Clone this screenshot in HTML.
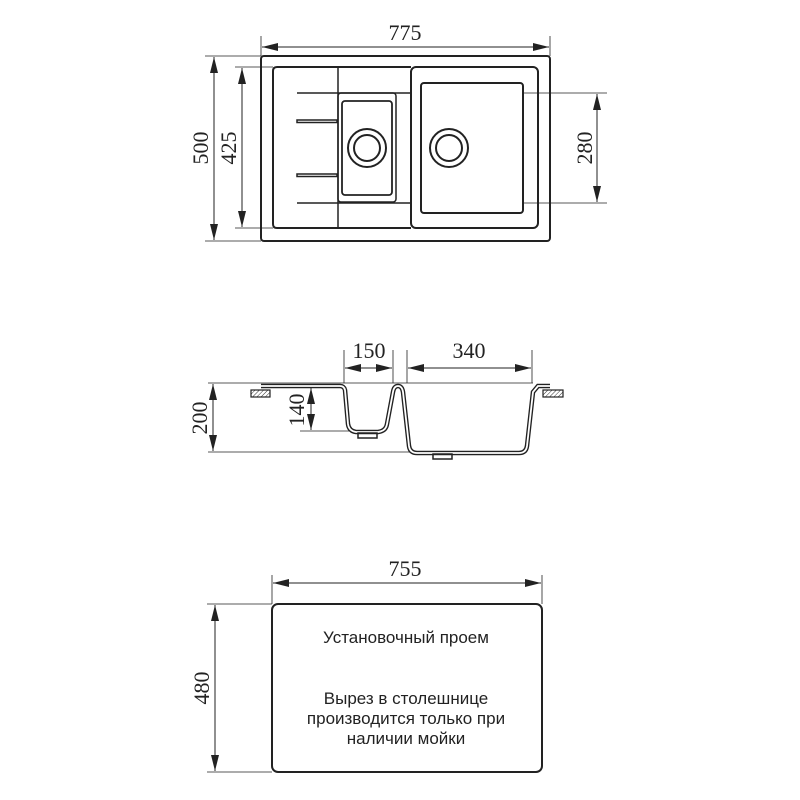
<!DOCTYPE html>
<html><head><meta charset="utf-8"><style>
html,body{margin:0;padding:0;background:#fff}
svg{display:block}
.d{font-family:"Liberation Serif",serif;font-size:22px;fill:#222}
.t{font-family:"Liberation Sans","DejaVu Sans",sans-serif;font-size:17px;fill:#222}
</style></head><body>
<svg width="800" height="800" viewBox="0 0 800 800" xmlns="http://www.w3.org/2000/svg">
<defs>
<marker id="a" viewBox="0 0 16 8" refX="16" refY="4" markerWidth="16" markerHeight="8" markerUnits="userSpaceOnUse" orient="auto-start-reverse"><path d="M0,0 L16,4 L0,8 Z" fill="#222"/></marker>
<pattern id="h" width="3" height="3" patternUnits="userSpaceOnUse" patternTransform="rotate(45)"><line x1="0" y1="0" x2="0" y2="3" stroke="#333" stroke-width="1"/></pattern>
</defs>
<g stroke="#222" fill="none">
<rect x="261" y="56" width="289" height="185" rx="3" stroke-width="2"/>
<path d="M411,67 L277,67 Q273,67 273,71 L273,224 Q273,228 277,228 L411,228" stroke-width="2"/>
<rect x="411" y="67" width="127" height="161" rx="5" stroke-width="2"/>
<rect x="421" y="83" width="102" height="130" rx="3" stroke-width="2"/>
<line x1="338" y1="67" x2="338" y2="228" stroke-width="1.5"/>
<rect x="338" y="93" width="58" height="109" rx="3" stroke-width="1.5"/>
<rect x="342" y="101" width="50" height="94" rx="3" stroke-width="1.8"/>
<circle cx="367" cy="148" r="19" stroke-width="2"/><circle cx="367" cy="148" r="13" stroke-width="2"/>
<circle cx="449" cy="148" r="19" stroke-width="2"/><circle cx="449" cy="148" r="13" stroke-width="2"/>
<line x1="297" y1="93" x2="411" y2="93" stroke-width="1.5"/>
<line x1="297" y1="203" x2="411" y2="203" stroke-width="1.5"/>
<rect x="297" y="120" width="40" height="2.5" stroke-width="1.5"/>
<rect x="297" y="174" width="40" height="2.5" stroke-width="1.5"/>
<g stroke-width="0.8">
<line x1="261" y1="36" x2="261" y2="56"/><line x1="550" y1="36" x2="550" y2="56"/>
<line x1="205" y1="56" x2="261" y2="56"/><line x1="205" y1="241" x2="261" y2="241"/>
<line x1="235" y1="67" x2="273" y2="67"/><line x1="235" y1="228" x2="273" y2="228"/>
<line x1="523" y1="93" x2="607" y2="93"/><line x1="523" y1="203" x2="607" y2="203"/>
</g>
<g stroke-width="1">
<line x1="262" y1="47" x2="549" y2="47" marker-start="url(#a)" marker-end="url(#a)"/>
<line x1="214" y1="57" x2="214" y2="240" marker-start="url(#a)" marker-end="url(#a)"/>
<line x1="242" y1="68" x2="242" y2="227" marker-start="url(#a)" marker-end="url(#a)"/>
<line x1="597" y1="94" x2="597" y2="202" marker-start="url(#a)" marker-end="url(#a)"/>
</g>
<g stroke-width="0.8">
<line x1="208" y1="383" x2="533" y2="383"/>
<line x1="208" y1="452" x2="420" y2="452"/>
<line x1="300" y1="431" x2="350" y2="431"/>
<line x1="344" y1="350" x2="344" y2="383"/><line x1="393" y1="350" x2="393" y2="383"/>
<line x1="407" y1="350" x2="407" y2="383"/><line x1="532" y1="350" x2="532" y2="383"/>
</g>
<g stroke-width="1">
<line x1="345" y1="368" x2="392" y2="368" marker-start="url(#a)" marker-end="url(#a)"/>
<line x1="408" y1="368" x2="531" y2="368" marker-start="url(#a)" marker-end="url(#a)"/>
<line x1="213" y1="384" x2="213" y2="451" marker-start="url(#a)" marker-end="url(#a)"/>
<line x1="311" y1="388" x2="311" y2="430" marker-start="url(#a)" marker-end="url(#a)"/>
</g>
<path d="M261,386 L340,386 Q344,386 345,390 L348,424 Q349,431 356,432 L378,432 Q386,431 387,424 L393,392 Q394,386 398,386 Q402,386 403,392 L409,446 Q410,453 417,453 L519,453 Q526,453 527,446 L533,392 L538,386 L550,386" stroke-width="4.5"/>
<path d="M261,386 L340,386 Q344,386 345,390 L348,424 Q349,431 356,432 L378,432 Q386,431 387,424 L393,392 Q394,386 398,386 Q402,386 403,392 L409,446 Q410,453 417,453 L519,453 Q526,453 527,446 L533,392 L538,386 L550,386" stroke="#fff" stroke-width="1.8"/>
<rect x="358" y="433" width="19" height="5" stroke-width="1.5"/>
<rect x="433" y="454" width="19" height="5" stroke-width="1.5"/>
<rect x="251" y="390" width="19" height="7" fill="url(#h)" stroke-width="1.2"/>
<rect x="543" y="390" width="20" height="7" fill="url(#h)" stroke-width="1.2"/>
<rect x="272" y="604" width="270" height="168" rx="6" stroke-width="2"/>
<g stroke-width="0.8">
<line x1="272" y1="575" x2="272" y2="604"/><line x1="542" y1="575" x2="542" y2="604"/>
<line x1="207" y1="604" x2="272" y2="604"/><line x1="207" y1="772" x2="272" y2="772"/>
</g>
<g stroke-width="1">
<line x1="273" y1="583" x2="541" y2="583" marker-start="url(#a)" marker-end="url(#a)"/>
<line x1="215" y1="605" x2="215" y2="771" marker-start="url(#a)" marker-end="url(#a)"/>
</g>
</g>
<text class="d" x="405" y="40" text-anchor="middle">775</text>
<text class="d" transform="translate(208,148) rotate(-90)" text-anchor="middle">500</text>
<text class="d" transform="translate(236,148) rotate(-90)" text-anchor="middle">425</text>
<text class="d" transform="translate(592,148) rotate(-90)" text-anchor="middle">280</text>
<text class="d" x="369" y="358" text-anchor="middle">150</text>
<text class="d" x="469" y="358" text-anchor="middle">340</text>
<text class="d" transform="translate(207,418) rotate(-90)" text-anchor="middle">200</text>
<text class="d" transform="translate(304,410) rotate(-90)" text-anchor="middle">140</text>
<text class="d" x="405" y="576" text-anchor="middle">755</text>
<text class="d" transform="translate(209,688) rotate(-90)" text-anchor="middle">480</text>
<text class="t" x="406" y="643" text-anchor="middle">Установочный проем</text>
<text class="t" x="406" y="704" text-anchor="middle">Вырез в столешнице</text>
<text class="t" x="406" y="724" text-anchor="middle">производится только при</text>
<text class="t" x="406" y="744" text-anchor="middle">наличии мойки</text>
</svg>
</body></html>
